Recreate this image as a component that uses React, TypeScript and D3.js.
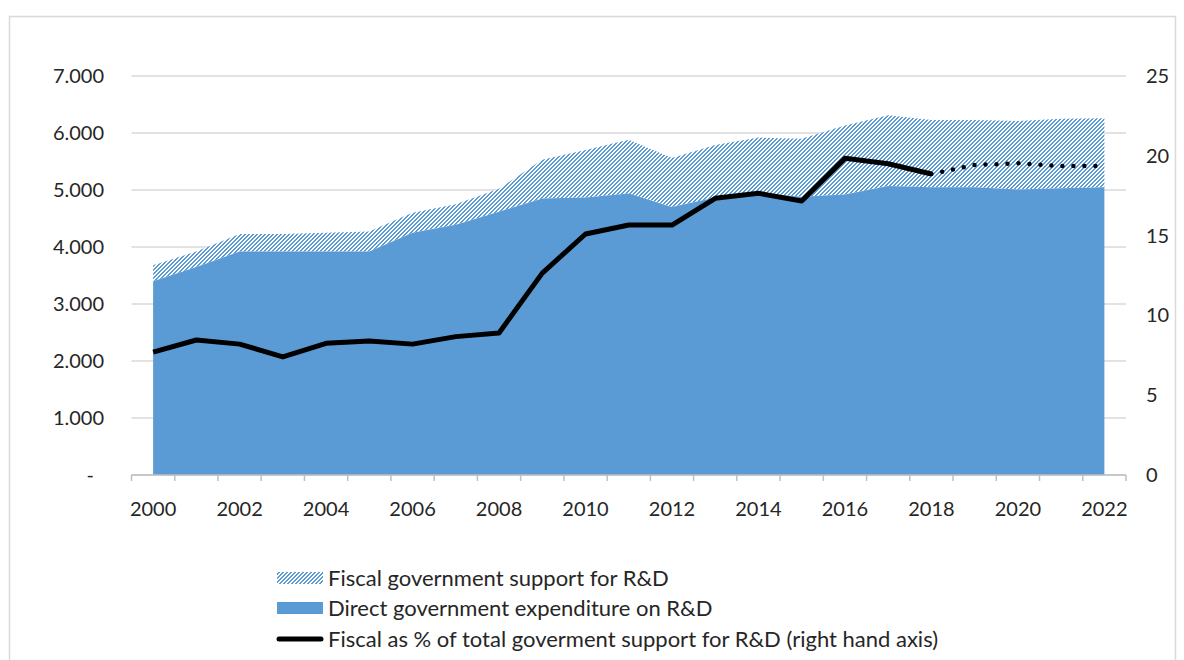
import React from "react";
import * as d3 from "d3";

const years = d3.range(2000, 2023).map(String);
const xTickLabels = ["2000","2002","2004","2006","2008","2010","2012","2014","2016","2018","2020","2022"];
const leftTicks = [0, 1000, 2000, 3000, 4000, 5000, 6000, 7000];
const rightTicks = [0, 5, 10, 15, 20, 25];

const directSpend = [3400, 3650, 3920, 3920, 3920, 3920, 4250, 4390, 4620, 4850, 4870, 4940, 4700, 4870, 4950, 4880, 4920, 5070, 5050, 5050, 5010, 5030, 5050];
const fiscalSupport = [280, 270, 310, 310, 330, 350, 350, 360, 400, 680, 830, 940, 860, 920, 970, 1020, 1210, 1240, 1180, 1180, 1200, 1220, 1210];
const fiscalPct = [7.7, 8.46, 8.2, 7.4, 8.25, 8.4, 8.2, 8.67, 8.9, 12.65, 15.1, 15.66, 15.66, 17.34, 17.65, 17.17, 19.84, 19.5, 18.86, 19.42, 19.53, 19.36, 19.36];
const solidUntil = "2018";

const legendLabels = [
  "Fiscal government support for R&D",
  "Direct government expenditure on R&D",
  "Fiscal as % of total goverment support for R&D (right hand axis)",
];

const BLUE = "#5b9bd5";
const FONT = "Lato, 'Open Sans', sans-serif";

const locale = d3.formatLocale({ decimal: ",", thousands: ".", grouping: [3], currency: ["", ""] });

// 4x4 pixel tile for an upward ("/") diagonal hatch
const hatchPixels: [number, number][] = [];
for (let px = 0; px < 4; px++) for (let py = 0; py < 4; py++) if ((px + py) % 4 >= 2) hatchPixels.push([px, py]);

export default function App() {
  const x = d3.scaleBand().domain(years).range([131.5, 1126]).padding(0);
  const cx = (y: string) => (x(y) as number) + x.bandwidth() / 2;
  const yL = d3.scaleLinear().domain([0, 7000]).range([475, 76]);
  const yR = d3.scaleLinear().domain([0, 25]).range([475, 76]);

  const rows = years.map((yr, i) => ({ yr, d: directSpend[i], t: directSpend[i] + fiscalSupport[i], p: fiscalPct[i] }));

  const areaDirect = d3.area<any>().x((r) => cx(r.yr)).y0(yL(0)).y1((r) => yL(r.d))(rows) || "";
  const areaFiscal = d3.area<any>().x((r) => cx(r.yr)).y0((r) => yL(r.d)).y1((r) => yL(r.t))(rows) || "";
  const cut = years.indexOf(solidUntil);
  const lineGen = d3.line<any>().x((r) => cx(r.yr)).y((r) => yR(r.p));
  const solidLine = lineGen(rows.slice(0, cut + 1)) || "";
  const dotLine = lineGen(rows.slice(cut)) || "";

  const boundaries = years.map((y) => x(y) as number).concat([x.range()[1]]);

  const legY = [578, 608, 639];
  const lx = 277;
  const lw = 46;

  return (
    <div style={{ position: "absolute", left: 0, top: 0 }}>
      <svg width={1184} height={660} style={{ display: "block", background: "#fff" }} fontFamily={FONT}>
        <defs>
          <pattern id="hatch" patternUnits="userSpaceOnUse" x={0} y={0} width={4} height={4}>
            <rect x={0} y={0} width={4} height={4} fill="#fff" />
            {hatchPixels.map(([a, b], i) => (
              <rect key={i} x={a} y={b} width={1} height={1} fill={BLUE} shapeRendering="crispEdges" />
            ))}
          </pattern>
        </defs>
        <rect x={9.5} y={16.5} width={1166} height={700} fill="#fff" stroke="#d9d9d9" strokeWidth={1.5} />

        {leftTicks.map((t) => (
          <line key={"g" + t} x1={131.5} x2={1126} y1={yL(t)} y2={yL(t)} stroke="#d9d9d9" strokeWidth={1.5} />
        ))}

        <path d={areaFiscal} fill="url(#hatch)" />
        <path d={areaDirect} fill={BLUE} />

        <line x1={131.5} x2={1126} y1={475} y2={475} stroke="#bfbfbf" strokeWidth={1.5} />
        {boundaries.map((b, i) => (
          <line key={"t" + i} x1={b} x2={b} y1={475} y2={481} stroke="#bfbfbf" strokeWidth={1.5} />
        ))}

        <path d={solidLine} fill="none" stroke="#000" strokeWidth={5} strokeLinejoin="round" />
        <path d={dotLine} fill="none" stroke="#000" strokeWidth={4.5} strokeLinecap="round" strokeDasharray="0 11" />

        {leftTicks.map((t) => (
          <text key={"l" + t} x={t === 0 ? 94 : 104} y={yL(t)} dy="0.35em" textAnchor="end" fontSize={20} fill="#262626">
            {t === 0 ? "-" : locale.format(",")(t)}
          </text>
        ))}
        {rightTicks.map((t) => (
          <text key={"r" + t} x={1146} y={yR(t)} dy="0.35em" textAnchor="start" fontSize={20} fill="#262626">
            {t}
          </text>
        ))}
        {xTickLabels.map((yr) => (
          <text key={"x" + yr} x={cx(yr)} y={509} dy="0.35em" textAnchor="middle" fontSize={20} fill="#262626">
            {yr}
          </text>
        ))}

        <rect x={lx} y={legY[0] - 6} width={lw} height={12} fill="url(#hatch)" />
        <rect x={lx} y={legY[1] - 6} width={lw} height={12} fill={BLUE} />
        <line x1={lx + 2} x2={lx + lw - 2} y1={legY[2]} y2={legY[2]} stroke="#000" strokeWidth={5} strokeLinecap="round" />
        {legendLabels.map((s, i) => (
          <text key={"lg" + i} x={328} y={legY[i]} dy="0.35em" fontSize={22} fill="#262626">
            {s}
          </text>
        ))}
      </svg>
    </div>
  );
}
